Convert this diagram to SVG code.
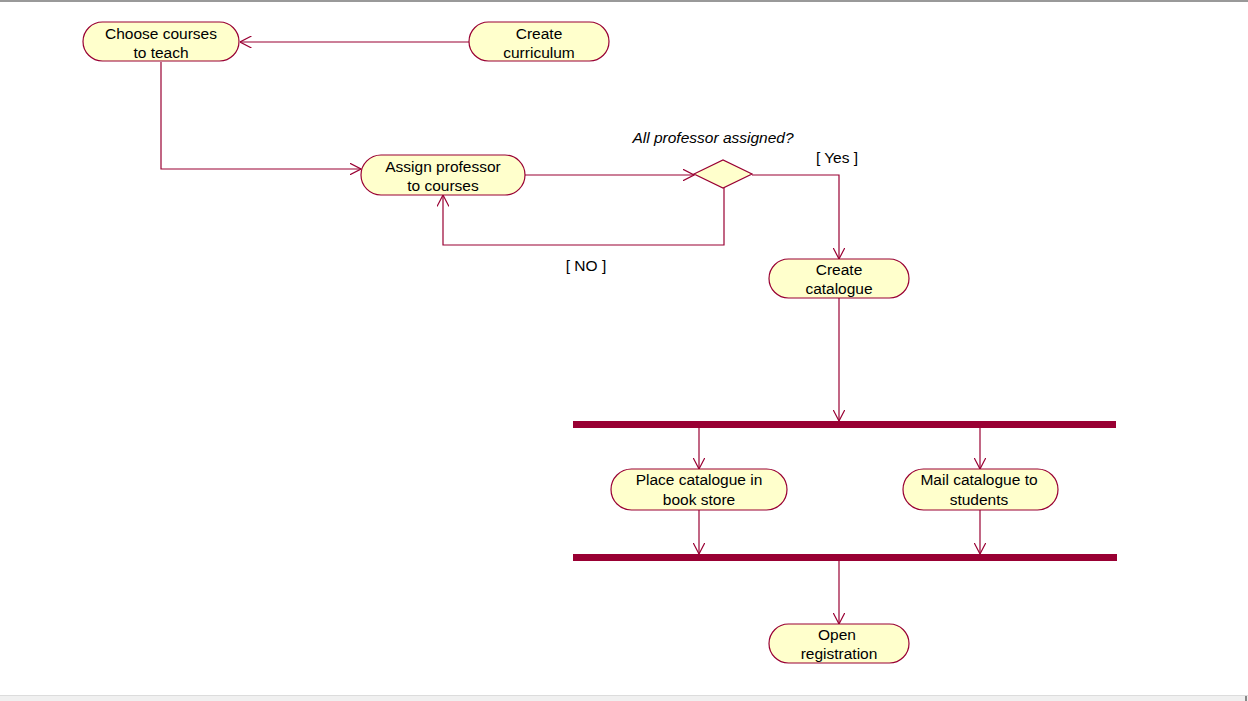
<svg xmlns="http://www.w3.org/2000/svg" width="1248" height="701" viewBox="0 0 1248 701">
<defs>
<style>
.node rect{fill:#FFFFCC;stroke:#990033;stroke-width:1.2}
.node text, .lbl{font-family:"Liberation Sans",Arial,sans-serif;font-size:15.5px;fill:#000;text-anchor:middle}
.it{font-style:italic}
.conn{fill:none;stroke:#990033;stroke-width:1.2}
.bar{fill:#990033}
</style>
<marker id="open" viewBox="0 0 12 12" refX="11.5" refY="6" markerWidth="12" markerHeight="12" markerUnits="userSpaceOnUse" orient="auto">
<path d="M0,0 L11.5,6 L0,12" fill="none" stroke="#990033" stroke-width="1.2"/>
</marker>
</defs>
<rect x="0" y="0" width="1248" height="701" fill="#fff"/>
<rect x="0" y="0" width="1248" height="2" fill="#999"/>
<rect x="0" y="695" width="1248" height="6" fill="#f0f0f0"/>
<rect x="0" y="695" width="1248" height="1" fill="#dcdcdc"/>
<rect x="1245" y="696" width="2" height="5" fill="#888"/>

<g id="connectors">
<path class="conn" d="M469,42 L240,42" marker-end="url(#open)"/>
<path class="conn" d="M161,62 L161,169 L361,169" marker-end="url(#open)"/>
<path class="conn" d="M525,175 L694,175" marker-end="url(#open)"/>
<path class="conn" d="M752,175 L839,175 L839,259" marker-end="url(#open)"/>
<path class="conn" d="M724,188 L724,245 L443,245 L443,195" marker-end="url(#open)"/>
<path class="conn" d="M839,298 L839,421" marker-end="url(#open)"/>
<path class="conn" d="M699,428 L699,469" marker-end="url(#open)"/>
<path class="conn" d="M980,428 L980,469" marker-end="url(#open)"/>
<path class="conn" d="M699,510 L699,554" marker-end="url(#open)"/>
<path class="conn" d="M980,510 L980,554" marker-end="url(#open)"/>
<path class="conn" d="M839,561 L839,624" marker-end="url(#open)"/>
<text class="lbl" x="837" y="163">[ Yes ]</text>
<text class="lbl" x="586" y="271">[ NO ]</text>
</g>

<g id="choose" class="node">
<rect x="83" y="22" width="156" height="39" rx="19.5"/>
<text x="161" y="38.5">Choose courses</text>
<text x="161" y="58">to teach</text>
</g>
<g id="curriculum" class="node">
<rect x="469" y="22" width="140" height="39" rx="19.5"/>
<text x="539" y="38.5">Create</text>
<text x="539" y="58">curriculum</text>
</g>
<g id="assign" class="node">
<rect x="361" y="155" width="164" height="40" rx="20"/>
<text x="443" y="171.5">Assign professor</text>
<text x="443" y="191">to courses</text>
</g>
<g id="decision">
<polygon points="694,174 723,160 752,174 723,188" fill="#FFFFCC" stroke="#990033" stroke-width="1.2"/>
<text class="lbl it" x="713" y="143">All professor assigned?</text>
</g>
<g id="catalogue" class="node">
<rect x="769" y="259" width="140" height="39" rx="19.5"/>
<text x="839" y="274.5">Create</text>
<text x="839" y="294">catalogue</text>
</g>
<g id="fork">
<rect class="bar" x="573" y="421" width="543" height="7"/>
</g>
<g id="place" class="node">
<rect x="611" y="469" width="176" height="41" rx="20.5"/>
<text x="699" y="485">Place catalogue in</text>
<text x="699" y="504.5">book store</text>
</g>
<g id="mail" class="node">
<rect x="903" y="469" width="155" height="41" rx="20.5"/>
<text x="979" y="485">Mail catalogue to</text>
<text x="979" y="504.5">students</text>
</g>
<g id="join">
<rect class="bar" x="573" y="554" width="544" height="7"/>
</g>
<g id="open-registration" class="node">
<rect x="769" y="624" width="140" height="39" rx="19.5"/>
<text x="837" y="639.5">Open</text>
<text x="839" y="659">registration</text>
</g>
</svg>
